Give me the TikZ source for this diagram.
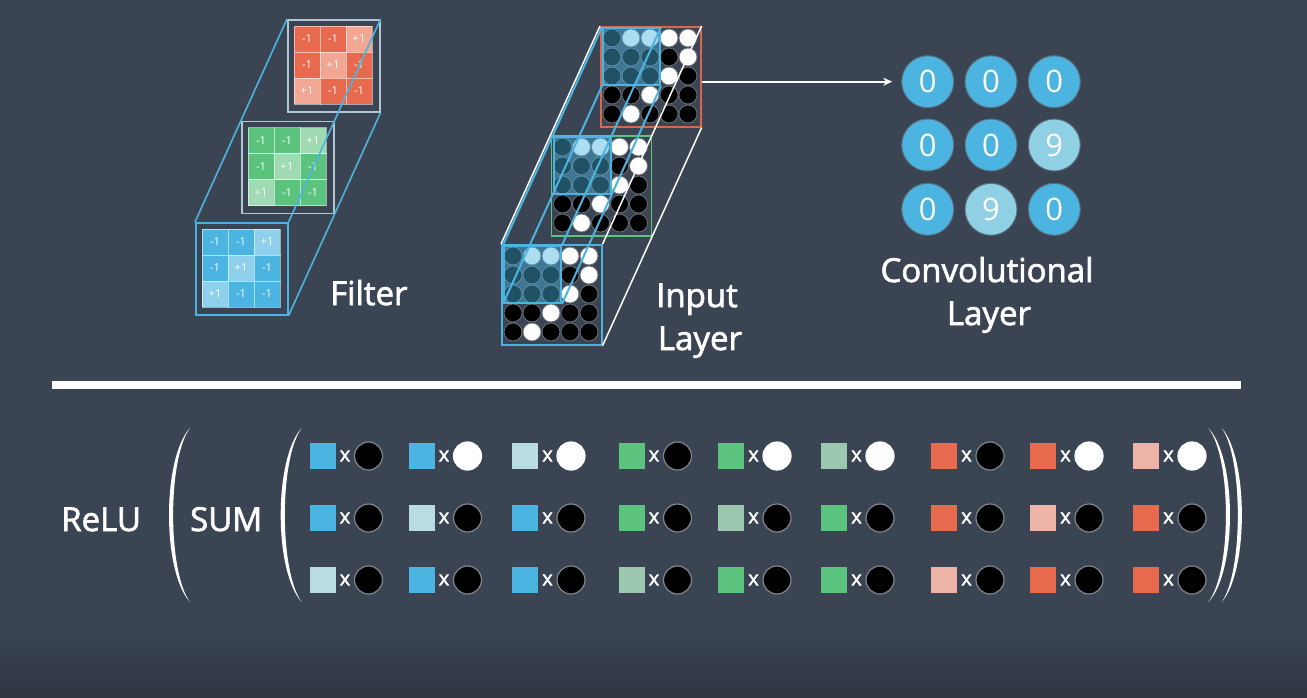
\documentclass[tikz,border=0pt]{standalone}
\usepackage{fontspec}
\setmainfont{Open Sans}
\newfontfamily\lblfont{Open Sans}[FakeBold=2]
\usetikzlibrary{arrows.meta}
\definecolor{bg}{RGB}{58,68,82}
\definecolor{bgdark}{RGB}{46,54,65}
\definecolor{cdark}{RGB}{75,180,224}
\definecolor{clight}{RGB}{143,208,228}
\definecolor{cedge}{RGB}{90,110,125}
\definecolor{frame}{RGB}{176,200,212}
\definecolor{fBdark}{RGB}{75,180,224}
\definecolor{fBlight}{RGB}{143,209,236}
\definecolor{fGdark}{RGB}{92,195,127}
\definecolor{fGlight}{RGB}{160,218,178}
\definecolor{fRdark}{RGB}{232,106,78}
\definecolor{fRlight}{RGB}{242,166,148}
\definecolor{Bdark}{RGB}{75,180,224}
\definecolor{Bpale}{RGB}{185,220,228}
\definecolor{Gdark}{RGB}{92,195,127}
\definecolor{Gpale}{RGB}{156,200,176}
\definecolor{Rdark}{RGB}{232,106,78}
\definecolor{Rpale}{RGB}{238,180,168}
\definecolor{inR}{RGB}{214,104,80}
\definecolor{inG}{RGB}{92,195,127}
\definecolor{pixedge}{RGB}{105,112,122}
\definecolor{dotedge}{RGB}{130,135,142}

\newcommand\filterblock[6]{%
  \node[draw=#6, line width=1.6, minimum size=92, inner sep=0, anchor=north west] (#5) at (#1,#2) {};
  \foreach \r/\c/\v in {0/0/-1,0/1/-1,0/2/+1,1/0/-1,1/1/+1,1/2/-1,2/0/+1,2/1/-1,2/2/-1}{%
    \ifnum\v>0 \def\cc{#4}\else\def\cc{#3}\fi
    \filldraw[fill=\cc, draw=white, draw opacity=0.55, line width=0.8] (#1+7+26*\c, #2+7+26*\r) rectangle +(26,26);
    \node[celltxt] (#5t\r\c) at (#1+20+26*\c, #2+20+26*\r) {\v};
  }%
}

\newcommand\inlayer[4]{%
  \node[draw=#3, line width=1.6, minimum size=100, inner sep=0, anchor=north west, fill=bg] (#4) at (#1,#2) {};
  \foreach \r in {0,...,4}{%
    \foreach \c in {0,...,4}{%
      \def\dc{black}%
      \ifnum\r=0 \ifnum\c>0 \def\dc{white}\fi\fi
      \ifnum\r>0 \ifnum\numexpr\r+\c\relax=5 \def\dc{white}\fi\fi
      \node[pix, fill=\dc] (#4p\r\c) at (#1+12+19*\c, #2+12+19*\r) {};
    }%
  }%
  \node[fill=cdark, fill opacity=0.45, draw=cdark, line width=2, minimum width=57, minimum height=57, inner sep=0, anchor=north west] (#4h) at (#1+2,#2+1) {};
}

\begin{document}
\begin{tikzpicture}[x=1pt,y=-1pt,
  lbl/.style={text=white, font=\lblfont\fontsize{33}{40}\selectfont, inner sep=0},
  celltxt/.style={text=white, font=\fontsize{11}{13}\selectfont, inner sep=0},
  pix/.style={circle, minimum size=18, inner sep=0, draw=pixedge, line width=0.8},
  conv/.style={circle, minimum size=52, inner sep=0, draw=cedge, line width=1, text=white, font=\fontsize{31}{36}\selectfont},
  sqr/.style={minimum size=26, inner sep=0},
  xmark/.style={text=white, font=\lblfont\fontsize{20}{22}\selectfont, inner sep=0},
  dotc/.style={circle, minimum size=28, inner sep=0, line width=1.2},
  paren/.style={fill=white},
  fline/.style={draw=cdark, line width=1.6},
  wline/.style={draw=white, line width=1.5},
  hline/.style={draw=cdark, line width=2},
]
\useasboundingbox (0,0) rectangle (1307,697);
\fill[bg] (0,0) rectangle (1307,697);
\shade[top color=bg, bottom color=bgdark] (0,630) rectangle (1307,697);

% ---------- Filter ----------
\filterblock{287}{19}{fRdark}{fRlight}{fR}{frame}
\filterblock{241}{120.5}{fGdark}{fGlight}{fG}{frame}
\filterblock{195}{222}{fBdark}{fBlight}{fB}{cdark}
\draw[fline] (fB.north west) -- (fR.north west);
\draw[fline] (fB.north east) -- (fR.north east);
\draw[fline] (fB.south east) -- (fR.south east);
\node[lbl, anchor=base west] (filt) at (330,305) {Filter};

% ---------- Input layer ----------
\inlayer{600}{26}{inR}{inR}
\inlayer{550.5}{135}{inG}{inG}
\inlayer{501}{244}{cdark}{inB}
\draw[wline] (inB.north west) -- (inR.north west);
\draw[wline] (inB.north east) -- (inR.north east);
\draw[wline] (inB.south east) -- (inR.south east);
\draw[hline] (inBh.north west) -- (inRh.north west);
\draw[hline] (inBh.north east) -- (inRh.north east);
\draw[hline] (inBh.south east) -- (inRh.south east);
\draw[hline] (inBh.south west) -- (inRh.south west);
\node[lbl, anchor=base] (inl1) at (697,307) {Input};
\node[lbl, anchor=base] (inl2) at (700,350) {Layer};

% ---------- Convolutional layer ----------
\node[conv, fill=cdark] (c00) at (927.7,81.7) {0};
\node[conv, fill=cdark] (c01) at (991,81.7) {0};
\node[conv, fill=cdark] (c02) at (1054.3,81.7) {0};
\node[conv, fill=cdark] (c10) at (927.7,145) {0};
\node[conv, fill=cdark] (c11) at (991,145) {0};
\node[conv, fill=clight] (c12) at (1054.3,145) {9};
\node[conv, fill=cdark] (c20) at (927.7,209.3) {0};
\node[conv, fill=clight] (c21) at (991,209.3) {9};
\node[conv, fill=cdark] (c22) at (1054.3,209.3) {0};
\draw[white, line width=1.6, -{Stealth[length=9pt,width=8pt]}, shorten >=9pt] (inR.east |- c00) -- (c00.west);
\node[lbl, anchor=base] (cl1) at (987,282) {Convolutional};
\node[lbl, anchor=base] (cl2) at (989,325) {Layer};

% ---------- separator ----------
\fill[white] (52,381) rectangle (1241,389);

% ---------- formula ----------
\node[lbl, anchor=base west] (relu) at (61,531) {ReLU};
\node[lbl, anchor=base west] (sum) at (190,531) {SUM};
\fill[paren] (190,428) .. controls (162,458) and (162,572) .. (190,602)
   .. controls (167.5,572) and (167.5,458) .. (190,428) -- cycle;
\fill[paren] (301.7,428) .. controls (273.7,458) and (273.7,572) .. (301.7,602)
   .. controls (279.2,572) and (279.2,458) .. (301.7,428) -- cycle;
\fill[paren] (1208.3,428) .. controls (1237.2,458) and (1237.2,572) .. (1208.3,602)
   .. controls (1231.8,572) and (1231.8,458) .. (1208.3,428) -- cycle;
\fill[paren] (1221.7,428) .. controls (1248.6,458) and (1248.6,572) .. (1221.7,602)
   .. controls (1243.2,572) and (1243.2,458) .. (1221.7,428) -- cycle;

\foreach \L/\s/\g in {309.5/B/0,408.5/B/1,512/B/2,618.5/G/0,718/G/1,821/G/2,931/R/0,1030/R/1,1133/R/2}{%
  \foreach \r/\yc in {0/456,1/518,2/580}{%
    \ifnum\numexpr\r+\g\relax=2 \def\cc{\s pale}\else\def\cc{\s dark}\fi
    \def\dc{black}\def\de{dotedge}%
    \ifnum\r=0 \ifnum\g>0 \def\dc{white}\def\de{white}\fi\fi
    \node[sqr, fill=\cc] (q\s\g\r) at (\L+13,\yc) {};
    \node[xmark] (x\s\g\r) at (\L+35.5,\yc) {x};
    \node[dotc, fill=\dc, draw=\de] (o\s\g\r) at (\L+59,\yc) {};
  }%
}
\end{tikzpicture}
\end{document}
